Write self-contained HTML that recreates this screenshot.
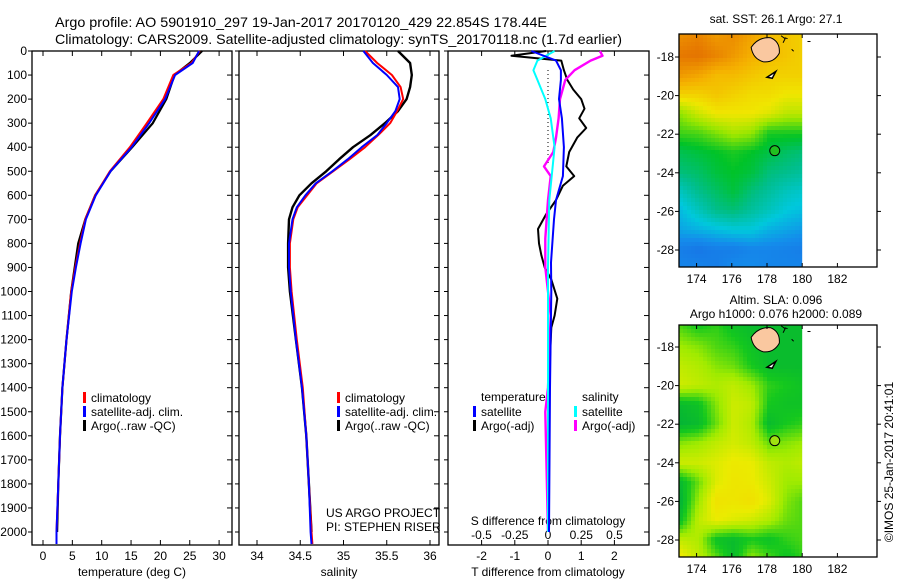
<!DOCTYPE html>
<html><head><meta charset="utf-8">
<style>
html,body{margin:0;padding:0;background:#fff;}
svg{display:block;font-family:"Liberation Sans",sans-serif;}
text{fill:#000;}
</style></head>
<body>
<svg id="fig" width="900" height="580" viewBox="0 0 900 580" xmlns="http://www.w3.org/2000/svg">
<text x="55" y="27" font-size="14" textLength="492" lengthAdjust="spacingAndGlyphs">Argo profile: AO 5901910_297 19-Jan-2017 20170120_429 22.854S 178.44E</text>
<text x="55" y="44" font-size="14" textLength="567" lengthAdjust="spacingAndGlyphs">Climatology: CARS2009. Satellite-adjusted climatology: synTS_20170118.nc (1.7d earlier)</text>
<g id="p1"></g>
<g id="p2"></g>
<g id="p3"></g>
<g id="m1"></g>
<g id="m2"></g>
<text transform="translate(893,462) rotate(-90)" font-size="12" text-anchor="middle">©IMOS 25-Jan-2017 20:41:01</text>
</svg>
<script>
// ---------- data ----------
const depthT = [0,50,100,200,300,400,500,600,700,800,900,1000,1200,1400,1600,1800,2000,2050];
const tempClim = [26.7,25.3,22.2,20.5,17.7,14.8,11.4,8.9,7.2,6.3,5.5,4.8,4.0,3.3,2.9,2.6,2.3,2.3];
const tempSat  = [26.6,25.5,22.5,20.8,18.1,15.1,11.5,9.0,7.3,6.4,5.6,4.9,4.0,3.3,2.9,2.6,2.3,2.3];
const tempArgo = [27.1,25.0,22.4,21.0,18.7,15.2,11.5,8.9,7.2,6.0,5.4,4.8,4.0,3.3,2.9,2.6,2.4];
const depthS = [0,50,100,150,200,250,300,350,400,450,500,550,600,650,700,800,900,1000,1200,1400,1600,1800,2000,2050];
const salClim = [35.25,35.39,35.56,35.66,35.69,35.62,35.54,35.40,35.25,35.07,34.88,34.69,34.58,34.47,34.42,34.38,34.38,34.40,34.46,34.53,34.57,34.60,34.63,34.64];
const salSat  = [35.23,35.34,35.50,35.63,35.65,35.60,35.50,35.39,35.21,35.05,34.87,34.68,34.56,34.46,34.41,34.37,34.37,34.39,34.45,34.52,34.57,34.60,34.62,34.63];
const salArgo = [35.63,35.77,35.79,35.77,35.73,35.63,35.48,35.31,35.11,34.95,34.80,34.63,34.49,34.41,34.37,34.36,34.36,34.38,34.45,34.52,34.57,34.60,34.63];
const depthTdA = [0,20,40,80,120,160,200,240,280,320,360,420,480,520,560,620,680,740,800,850,900,950,1030,1100,1150,1300,1500,2000];
const tdiffArgo = [-0.06,-1.1,0.4,0.48,0.58,0.76,1.0,1.1,0.94,1.15,0.88,0.64,0.55,0.79,0.45,0.24,-0.06,-0.3,-0.27,-0.2,-0.1,0.1,0.28,0.2,0.1,0.05,0.03,0.03];
const depthTdS = [0,40,80,120,200,280,400,520,620,700,880,1000,1400,2000];
const tdiffSat = [-0.5,0.24,0.39,0.39,0.33,0.42,0.48,0.45,0.24,0.18,0.09,0.1,0.06,0.03];
const depthSdS = [0,40,80,120,200,280,400,620,900,2000];
const sdiffSat = [0.05,-0.08,-0.11,-0.08,-0.02,0.02,0.05,0.01,0.0,0.0];
const depthSdA = [0,20,40,80,120,200,280,360,420,480,520,620,780,900,1100,1400,1500,2000];
const sdiffArgo = [0.39,0.41,0.32,0.2,0.13,0.09,0.08,0.06,0.04,-0.03,0.02,0.0,-0.02,-0.02,0.02,0.0,-0.02,0.0];
const depthTicks = [0,100,200,300,400,500,600,700,800,900,1000,1100,1200,1300,1400,1500,1600,1700,1800,1900,2000];
const tempTicks = [0,5,10,15,20,25,30];
const salTicks = [34,34.5,35,35.5,36];
const tdTicks = [-2,-1,0,1,2];
const sdTicks = [-0.5,-0.25,0,0.25,0.5];
const lonTicks = [174,176,178,180,182];
const latTicks = [-18,-20,-22,-24,-26,-28];
const sstGrid = [
[0.88,0.90,0.86,0.88,0.84,0.80,0.78,0.76],
[0.92,0.93,0.90,0.86,0.82,0.80,0.78,0.76],
[0.86,0.84,0.80,0.80,0.78,0.76,0.76,0.76],
[0.76,0.76,0.78,0.76,0.74,0.74,0.72,0.72],
[0.62,0.68,0.72,0.72,0.72,0.70,0.66,0.66],
[0.55,0.56,0.60,0.64,0.62,0.52,0.52,0.52],
[0.46,0.48,0.50,0.52,0.50,0.47,0.44,0.42],
[0.42,0.44,0.48,0.50,0.48,0.42,0.40,0.38],
[0.34,0.40,0.44,0.48,0.42,0.38,0.34,0.32],
[0.28,0.34,0.40,0.42,0.38,0.34,0.30,0.28],
[0.24,0.26,0.28,0.30,0.30,0.26,0.24,0.22],
[0.16,0.14,0.16,0.16,0.18,0.18,0.17,0.16],
[0.18,0.18,0.16,0.20,0.20,0.18,0.18,0.18]];
const slaGrid = [
[0.30,0.20,0.25,0.15,0.10,0.10,0.10,0.10],
[0.45,0.40,0.30,0.25,0.15,0.10,0.10,0.10],
[0.55,0.50,0.40,0.35,0.20,0.10,0.10,0.10],
[0.60,0.55,0.50,0.55,0.45,0.25,0.20,0.15],
[0.10,0.15,0.40,0.60,0.55,0.20,0.15,0.15],
[0.05,0.10,0.35,0.60,0.50,0.10,0.20,0.25],
[0.40,0.45,0.55,0.62,0.55,0.35,0.40,0.45],
[0.60,0.60,0.65,0.72,0.70,0.55,0.50,0.55],
[0.10,0.35,0.65,0.75,0.72,0.60,0.45,0.45],
[0.05,0.45,0.78,0.75,0.80,0.65,0.40,0.30],
[0.15,0.55,0.70,0.65,0.60,0.50,0.35,0.30],
[0.55,0.50,0.15,0.10,0.20,0.15,0.25,0.30],
[0.75,0.55,0.35,0.10,0.45,0.30,0.15,0.25]];

const NS = "http://www.w3.org/2000/svg";
function mk(parent, tag, attrs){
  const e = document.createElementNS(NS, tag);
  for (const k in attrs) e.setAttribute(k, attrs[k]);
  parent.appendChild(e); return e;
}
const top0 = 51, dpx = 0.2405;
const yD = d => top0 + d*dpx;
const P1 = {x0:32, x1:232}, P2 = {x0:239, x1:439}, P3 = {x0:448, x1:649};
const yTop = 51, yBot = 545;
const xT = t => 43 + t*5.87;
const xS = s => 257 + (s-34)*86.5;
const xTd = t => 548 + t*33.2;
const xSd = s => 548 + s*133;

function frame(g, P, name){
  const r = mk(g,'rect',{x:P.x0,y:yTop,width:P.x1-P.x0,height:yBot-yTop,fill:'none',stroke:'#000','stroke-width':1.3});
  
  
  depthTicks.forEach(d=>{
    mk(g,'line',{x1:P.x0-4,x2:P.x0,y1:yD(d),y2:yD(d),stroke:'#000'});
    mk(g,'line',{x1:P.x1-5,x2:P.x1,y1:yD(d),y2:yD(d),stroke:'#000'});
  });
}
function xticks(g, vals, fx, labelY, labels){
  vals.forEach((v,i)=>{
    const x = fx(v);
    mk(g,'line',{x1:x,x2:x,y1:yTop,y2:yTop+5,stroke:'#000'});
    mk(g,'line',{x1:x,x2:x,y1:yBot-5,y2:yBot,stroke:'#000'});
    if (labels){
      const t = mk(g,'text',{x:x,y:labelY,'font-size':12,'text-anchor':'middle'});
      t.textContent = String(v);
      
      
    }
  });
}
function line(g, ds, vs, fx, color, w, name){
  const n = Math.min(ds.length, vs.length);
  let p = '';
  for (let i=0;i<n;i++) p += (i?'L':'M') + fx(vs[i]).toFixed(1) + ',' + yD(ds[i]).toFixed(1);
  const e = mk(g,'path',{d:p,fill:'none',stroke:color,'stroke-width':w,'stroke-linejoin':'round'});
  
  
}
function txt(g, x, y, s, size, anchor, name){
  const t = mk(g,'text',{x:x,y:y,'font-size':size,'text-anchor':anchor||'start'});
  t.textContent = s;
  
  
  return t;
}
function legend(g, x, y, color, label){
  mk(g,'rect',{x:x,y:y-10,width:3,height:11,fill:color});
  txt(g, x+8, y, label, 12, 'start', 'legend-entry');
}
const g1 = document.getElementById('p1');
frame(g1, P1, 'temperature-axes');
depthTicks.forEach(d=>{ txt(g1, 27, yD(d)+4, String(d), 12, 'end', 'y-tick-label'); });
xticks(g1, tempTicks, xT, 560, true);
txt(g1, 132, 576, 'temperature (deg C)', 12, 'middle', 'x-axis-title');
line(g1, depthT, tempArgo, xT, '#000', 2.2, 'argo-temperature-line');
line(g1, depthT, tempClim, xT, '#f00', 2, 'climatology-temperature-line');
line(g1, depthT, tempSat, xT, '#00f', 2, 'satellite-temperature-line');
legend(g1, 83, 402, '#f00', 'climatology');
legend(g1, 83, 416, '#00f', 'satellite-adj. clim.');
legend(g1, 83, 430, '#000', 'Argo(..raw -QC)');
const g2 = document.getElementById('p2');
frame(g2, P2, 'salinity-axes');
xticks(g2, salTicks, xS, 560, true);
txt(g2, 339, 576, 'salinity', 12, 'middle', 'x-axis-title');
line(g2, depthS, salArgo, xS, '#000', 2.4, 'argo-salinity-line');
line(g2, depthS, salClim, xS, '#f00', 2, 'climatology-salinity-line');
line(g2, depthS, salSat, xS, '#00f', 2, 'satellite-salinity-line');
legend(g2, 337, 402, '#f00', 'climatology');
legend(g2, 337, 416, '#00f', 'satellite-adj. clim.');
legend(g2, 337, 430, '#000', 'Argo(..raw -QC)');
txt(g2, 326, 517, 'US ARGO PROJECT', 12, 'start', 'project-label');
txt(g2, 326, 531, 'PI: STEPHEN RISER', 12, 'start', 'pi-label');
const g3 = document.getElementById('p3');
frame(g3, P3, 'difference-axes');
xticks(g3, tdTicks, xTd, 560, true);
sdTicks.forEach(v=>{ txt(g3, xSd(v), 539, String(v), 12, 'middle', 's-tick-label'); });
txt(g3, 548, 525, 'S difference from climatology', 12, 'middle', 's-axis-title');
txt(g3, 548, 576, 'T difference from climatology', 12, 'middle', 'x-axis-title');
mk(g3,'line',{x1:548,x2:548,y1:70,y2:165,stroke:'#000','stroke-dasharray':'1,3'});
line(g3, depthTdA, tdiffArgo, xTd, '#000', 2, 'argo-t-diff-line');
line(g3, depthSdA, sdiffArgo, xSd, '#f0f', 2.4, 'argo-s-diff-line');
line(g3, depthSdS, sdiffSat, xSd, '#0ff', 2, 'satellite-s-diff-line');
line(g3, depthTdS, tdiffSat, xTd, '#00f', 2, 'satellite-t-diff-line');
txt(g3, 481, 401, 'temperature', 12, 'start', 'legend-title-temperature');
txt(g3, 582, 401, 'salinity', 12, 'start', 'legend-title-salinity');
legend(g3, 473, 416, '#00f', 'satellite');
legend(g3, 473, 430, '#000', 'Argo(-adj)');
legend(g3, 574, 416, '#0ff', 'satellite');
legend(g3, 574, 430, '#f0f', 'Argo(-adj)');

function lerpC(stops, v){
  v = Math.max(0, Math.min(1, v));
  for (let i=1;i<stops.length;i++){
    if (v <= stops[i][0]){
      const a = stops[i-1], b = stops[i], f = (v-a[0])/(b[0]-a[0]);
      return 'rgb(' + [1,2,3].map(k=>Math.round(a[k]+(b[k]-a[k])*f)).join(',') + ')';
    }
  }
  const l = stops[stops.length-1]; return 'rgb('+l[1]+','+l[2]+','+l[3]+')';
}
const sstStops = [[0,30,70,220],[0.2,20,140,235],[0.3,0,200,220],[0.4,0,190,140],[0.5,0,195,40],[0.62,150,230,0],[0.72,240,230,0],[0.82,245,175,0],[0.92,230,120,0],[1,210,90,10]];
const slaStops = [[0,0,175,60],[0.2,20,200,30],[0.45,160,235,0],[0.7,235,235,0],[1,250,200,0]];
function drawMap(id, y0, y1, grid, stops, title, titleY){
  const g = document.getElementById(id);
  const X0 = 679, X1 = 877, lon0 = 173, pxLon = 17.6;
  const lat18y = y0 + (id==='m1'?23:22), pxLat = 19.3;
  const xL = lon => X0 + (lon-lon0)*pxLon;
  const yL = lat => lat18y + (-18-lat)*pxLat;
  const dataX1 = xL(180);
  const rows = grid.length, cols = grid[0].length;
  const cell = 4;
  for (let y=y0; y<y1; y+=cell){
    for (let x=X0; x<dataX1; x+=cell){
      const fr = Math.min(rows-1.001, Math.max(0, (y-y0)/(y1-y0)*(rows-1)));
      const fc = Math.min(cols-1.001, Math.max(0, (x-X0)/(dataX1-X0)*(cols-1)));
      const r = Math.floor(fr), c = Math.floor(fc), a = fr-r, b = fc-c;
      const v = grid[r][c]*(1-a)*(1-b)+grid[r][c+1]*(1-a)*b+grid[r+1][c]*a*(1-b)+grid[r+1][c+1]*a*b;
      const e = mk(g,'rect',{x:x,y:y,width:Math.min(cell,dataX1-x),height:Math.min(cell,y1-y),fill:lerpC(stops,v)});
      
      
    }
  }
  const isl = mk(g,'path',{d:'M'+xL(177.1)+','+yL(-17.5)+' Q'+xL(177.5)+','+yL(-16.95)+' '+xL(178.2)+','+yL(-17.0)+' Q'+xL(178.75)+','+yL(-17.2)+' '+xL(178.7)+','+yL(-17.8)+' Q'+xL(178.4)+','+yL(-18.3)+' '+xL(177.8)+','+yL(-18.25)+' Q'+xL(177.2)+','+yL(-18.1)+' '+xL(177.1)+','+yL(-17.5)+' Z',fill:'#fac8a0',stroke:'#000','stroke-width':1});
  
  
  mk(g,'path',{d:'M'+xL(178.0)+','+yL(-19.05)+' L'+xL(178.5)+','+yL(-18.75)+' L'+xL(178.3)+','+yL(-19.1)+' Z',fill:'#fff',stroke:'#000','stroke-width':1.5});
  mk(g,'path',{d:'M'+xL(178.8)+','+yL(-16.9)+' l4,3 l-2,4 M'+xL(179.4)+','+yL(-17.6)+' l2,2 M'+xL(179.0)+','+yL(-17.0)+' l3,1 M'+xL(180.3)+','+yL(-17.2)+' h3',fill:'none',stroke:'#000','stroke-width':1});
  const ci = mk(g,'circle',{cx:xL(178.44),cy:yL(-22.854),r:5,fill:id==='m1'?'#20c020':'#a0e010',stroke:'#000','stroke-width':1});
  
  
  mk(g,'rect',{x:X0,y:y0,width:X1-X0,height:y1-y0,fill:'none',stroke:'#000','stroke-width':1.3});
  lonTicks.forEach(l=>{
    mk(g,'line',{x1:xL(l),x2:xL(l),y1:y0,y2:y0+4,stroke:'#000'});
    mk(g,'line',{x1:xL(l),x2:xL(l),y1:y1-4,y2:y1,stroke:'#000'});
    txt(g, xL(l), y1+16, String(l), 12, 'middle', 'lon-tick-label');
  });
  latTicks.forEach(l=>{
    mk(g,'line',{x1:X0-4,x2:X0,y1:yL(l),y2:yL(l),stroke:'#000'});
    mk(g,'line',{x1:X1,x2:X1+4,y1:yL(l),y2:yL(l),stroke:'#000'});
    txt(g, X0-5, yL(l)+4, String(l), 12, 'end', 'lat-tick-label');
  });
  title.forEach((s,i)=>{ txt(g, 776, titleY[i], s, 12, 'middle', 'map-title'); });
}
drawMap('m1', 34, 267, sstGrid, sstStops, ['sat. SST: 26.1 Argo: 27.1'], [23]);
drawMap('m2', 325, 557, slaGrid, slaStops, ['Altim. SLA: 0.096','Argo h1000: 0.076 h2000: 0.089'], [304, 318]);
</script>
</body></html>
